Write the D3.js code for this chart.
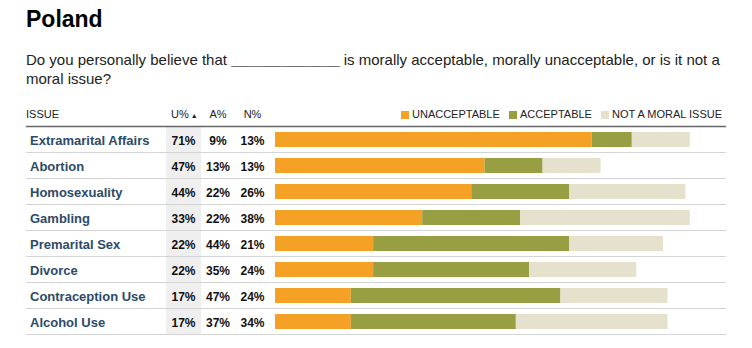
<!DOCTYPE html>
<html>
<head>
<meta charset="utf-8">
<script src="https://cdn.jsdelivr.net/npm/d3@7"></script>
<style>
  body { margin: 0; background: #fff; }
  text { font-family: Arial, "Liberation Sans", sans-serif; }
</style>
</head>
<body>
<svg width="752" height="348"></svg>
<script>
// Poland - moral acceptability of issues

const issues = ['Extramarital Affairs', 'Abortion', 'Homosexuality', 'Gambling',
  'Premarital Sex', 'Divorce', 'Contraception Use', 'Alcohol Use'];
const unacceptable = [71, 47, 44, 33, 22, 22, 17, 17];
const acceptable = [9, 13, 22, 22, 44, 35, 47, 37];
const notMoral = [13, 13, 26, 38, 21, 24, 24, 34];

const seriesKeys = ['U', 'A', 'N'];
const seriesNames = ['UNACCEPTABLE', 'ACCEPTABLE', 'NOT A MORAL ISSUE'];
const colors = ['#f4a126', '#979f42', '#e6e1cd'];

const svg = d3.select('svg');

const data = issues.map((name, i) => ({
  name, U: unacceptable[i], A: acceptable[i], N: notMoral[i]
}));

// title + question
svg.append('text')
  .attr('x', 26).attr('y', 27)
  .attr('font-size', 23).attr('font-weight', 'bold').attr('fill', '#000')
  .text('Poland');

const q = svg.append('text')
  .attr('x', 26).attr('y', 65)
  .attr('font-size', 15).attr('fill', '#222');
q.append('tspan').text('Do you personally believe that ');
q.append('tspan').attr('font-weight', 'bold').attr('fill', '#000').text('_____________');
q.append('tspan').text(' is morally acceptable, morally unacceptable, or is it not a');
svg.append('text')
  .attr('x', 26).attr('y', 84)
  .attr('font-size', 15).attr('fill', '#222')
  .text('moral issue?');

// layout
const left = 26, right = 726;
const rowTop = 127, rowH = 26;

const yScale = d3.scaleBand()
  .domain(issues)
  .range([rowTop, rowTop + rowH * issues.length])
  .paddingInner(0).paddingOuter(0);

const xScale = d3.scaleLinear()
  .domain([0, 100])
  .range([275, 721]);

const colX = { U: 183.5, A: 218, N: 252.5 };

// gray sorted column background
svg.append('rect')
  .attr('x', 166).attr('y', rowTop)
  .attr('width', 35).attr('height', rowH * issues.length)
  .attr('fill', '#efefef');

// header
const headY = 118;
svg.append('text')
  .attr('x', left).attr('y', headY)
  .attr('font-size', 11).attr('fill', '#222')
  .text('ISSUE');
const uh = svg.append('text')
  .attr('x', 171).attr('y', headY)
  .attr('font-size', 11).attr('fill', '#222');
uh.append('tspan').text('U%');
uh.append('tspan').attr('font-size', 7).attr('dx', 2).text('▲');
svg.append('text')
  .attr('x', 218).attr('y', headY).attr('text-anchor', 'middle')
  .attr('font-size', 11).attr('fill', '#222')
  .text('A%');
svg.append('text')
  .attr('x', 252.5).attr('y', headY).attr('text-anchor', 'middle')
  .attr('font-size', 11).attr('fill', '#222')
  .text('N%');

// legend
const legendX = [401, 509, 601];
const legend = svg.append('g');
seriesNames.forEach((name, i) => {
  legend.append('rect')
    .attr('x', legendX[i]).attr('y', 111)
    .attr('width', 8).attr('height', 8)
    .attr('fill', colors[i]);
  legend.append('text')
    .attr('x', legendX[i] + 11).attr('y', headY)
    .attr('font-size', 11).attr('fill', '#222')
    .text(name);
});

svg.append('line')
  .attr('x1', left).attr('x2', right)
  .attr('y1', 126.5).attr('y2', 126.5)
  .attr('stroke', '#666').attr('stroke-width', 1.5);

// rows
const rows = svg.selectAll('g.row').data(data)
  .enter().append('g')
    .attr('class', 'row')
    .attr('transform', d => `translate(0, ${yScale(d.name)})`);

rows.append('line')
  .attr('x1', left).attr('x2', right)
  .attr('y1', rowH - 0.5).attr('y2', rowH - 0.5)
  .attr('stroke', '#d4d4d4').attr('stroke-width', 1);

rows.append('text')
  .attr('x', 30).attr('y', rowH / 2 + 4.5)
  .attr('font-size', 13).attr('font-weight', 'bold').attr('fill', '#2d4a68')
  .text(d => d.name);

seriesKeys.forEach(k => {
  rows.append('text')
    .attr('x', colX[k]).attr('y', rowH / 2 + 4.5)
    .attr('text-anchor', 'middle')
    .attr('font-size', 12).attr('font-weight', 'bold').attr('fill', '#111')
    .text(d => d[k] + '%');
});

// stacked bars
const stack = d3.stack().keys(seriesKeys);
const series = stack(data);

series.forEach((s, i) => {
  svg.append('g')
    .attr('fill', colors[i])
    .selectAll('rect').data(s)
    .enter().append('rect')
      .attr('x', d => xScale(d[0]))
      .attr('y', d => yScale(d.data.name) + 5)
      .attr('width', d => xScale(d[1]) - xScale(d[0]))
      .attr('height', 15);
});
</script>
</body>
</html>
